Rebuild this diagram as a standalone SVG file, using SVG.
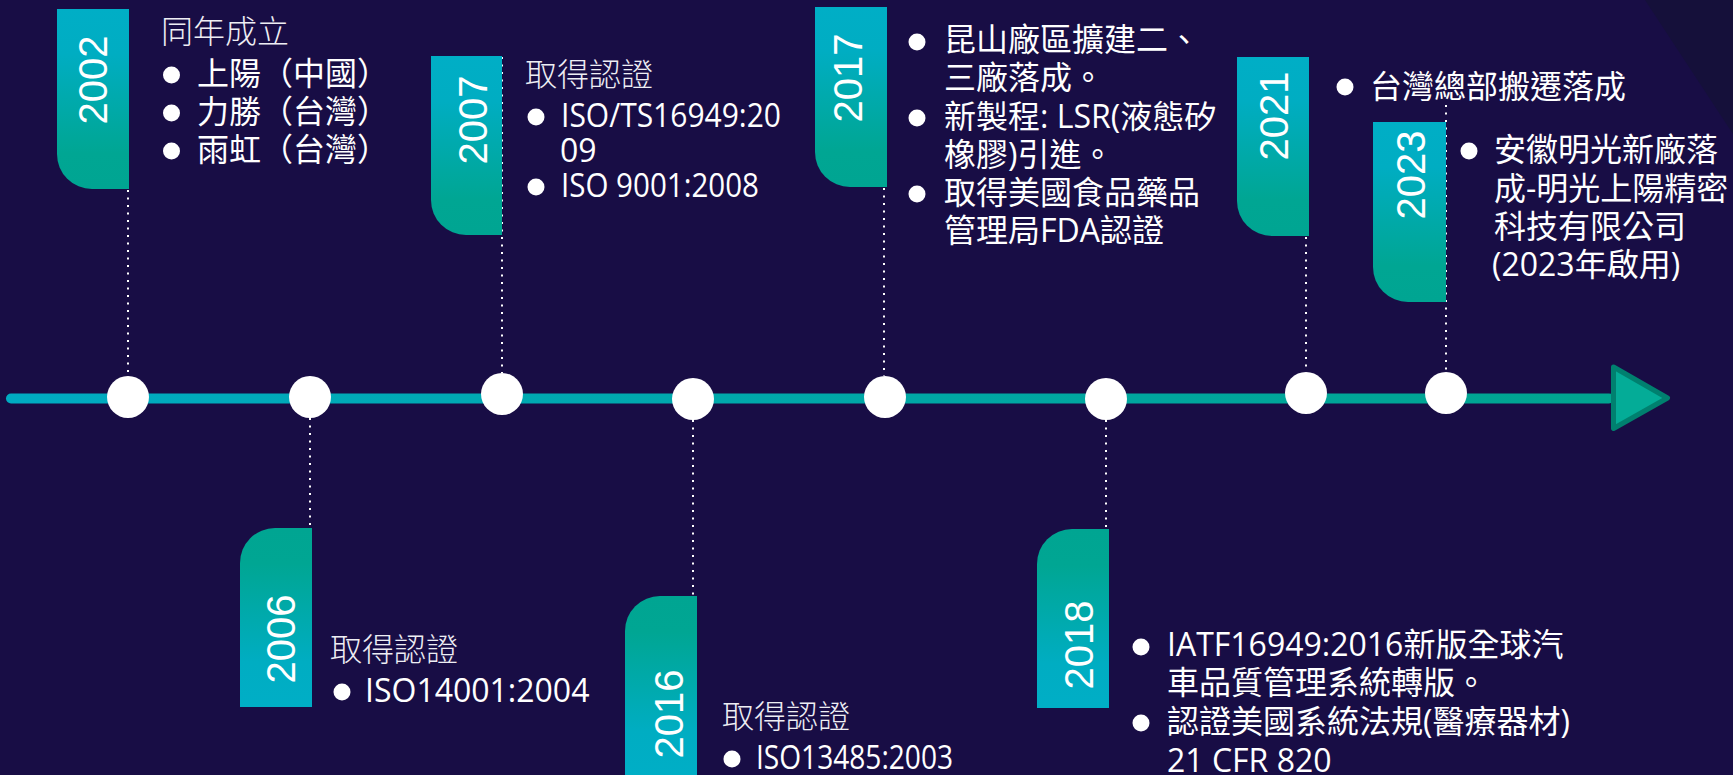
<svg xmlns="http://www.w3.org/2000/svg" width="1733" height="775" viewBox="0 0 1733 775">
<defs>
<linearGradient id="gTop" x1="0" y1="0" x2="0" y2="1">
<stop offset="0" stop-color="#00AEC6"/>
<stop offset="0.25" stop-color="#00ADC2"/>
<stop offset="0.8" stop-color="#00A693"/>
<stop offset="1" stop-color="#00A592"/>
</linearGradient>
<linearGradient id="gBot" x1="0" y1="1" x2="0" y2="0">
<stop offset="0" stop-color="#00AEC6"/>
<stop offset="0.25" stop-color="#00ADC2"/>
<stop offset="0.8" stop-color="#00A693"/>
<stop offset="1" stop-color="#00A592"/>
</linearGradient>
<linearGradient id="gAxis" x1="0" y1="0" x2="1" y2="0">
<stop offset="0" stop-color="#00ABC2"/>
<stop offset="1" stop-color="#00A48F"/>
</linearGradient>
<style>
.yr{font-family:"Liberation Sans",Arial,sans-serif;font-size:40px;fill:#FFFFFF;text-anchor:middle}
.tx{font-family:"Open Sans","Noto Sans CJK TC",sans-serif;font-size:32px;fill:#FFFFFF}
.hd{font-family:"Noto Sans CJK TC",sans-serif;font-size:32px;font-weight:300;fill:#EEEEF4}
.bul{fill:#FFFFFF}
.dot{fill:#FFFFFF}
.conn{stroke:#FFFFFF;stroke-width:2;stroke-dasharray:2 5.5;fill:none}
.tabT{fill:url(#gTop)}
.tabB{fill:url(#gBot)}
</style>
</defs>
<rect x="0" y="0" width="1733" height="775" fill="#180D45"/>
<polygon points="1645,0 1733,0 1733,134" fill="#15103A"/>

<g id="connectors">
<line class="conn" x1="128" y1="190" x2="128" y2="376"/>
<line class="conn" x1="310" y1="418" x2="310" y2="528"/>
<line class="conn" x1="502" y1="57" x2="502" y2="373"/>
<line class="conn" x1="693" y1="420" x2="693" y2="596"/>
<line class="conn" x1="884" y1="188" x2="884" y2="376"/>
<line class="conn" x1="1106" y1="420" x2="1106" y2="529"/>
<line class="conn" x1="1306" y1="237" x2="1306" y2="372"/>
<line class="conn" x1="1446" y1="105" x2="1446" y2="372"/>
</g>

<g id="axis">
<rect x="6" y="393.5" width="1608" height="10" rx="5" fill="url(#gAxis)"/>
<polygon points="1613.5,367 1667.5,398 1613.5,428.5" fill="#04AC97" stroke="#00806F" stroke-width="5" stroke-linejoin="round"/>
</g>

<g id="n2002">
<path class="tabT" d="M57,9 H129 V189 H92 A35 35 0 0 1 57,154 Z"/>
<text class="yr" transform="translate(107,80) rotate(-90)">2002</text>
<circle class="dot" cx="128" cy="397" r="21"/>
<text class="hd" x="161" y="43">同年成立</text>
<circle class="bul" cx="171.5" cy="75" r="8.5"/>
<text class="tx" x="197" y="85">上陽（中國）</text>
<circle class="bul" cx="171.5" cy="113" r="8.5"/>
<text class="tx" x="197" y="123">力勝（台灣）</text>
<circle class="bul" cx="171.5" cy="151" r="8.5"/>
<text class="tx" x="197" y="161">雨虹（台灣）</text>
</g>

<g id="n2006">
<path class="tabB" d="M275,528 H312 V707 H240 V563 A35 35 0 0 1 275,528 Z"/>
<text class="yr" transform="translate(295,639) rotate(-90)">2006</text>
<circle class="dot" cx="310" cy="397" r="21"/>
<text class="hd" x="330" y="661">取得認證</text>
<circle class="bul" cx="342" cy="692" r="8.5"/>
<text class="tx" x="365" y="702">ISO14001:2004</text>
</g>

<g id="n2007">
<path class="tabT" d="M431,56 H502 V235 H466 A35 35 0 0 1 431,200 Z"/>
<text class="yr" transform="translate(487,120) rotate(-90)">2007</text>
<circle class="dot" cx="502" cy="394" r="21"/>
<text class="hd" x="525" y="86">取得認證</text>
<circle class="bul" cx="536" cy="117" r="8.5"/>
<text class="tx" x="561" y="127" textLength="220" lengthAdjust="spacingAndGlyphs">ISO/TS16949:20</text>
<text class="tx" x="560" y="162">09</text>
<circle class="bul" cx="536" cy="187" r="8.5"/>
<text class="tx" x="561" y="197" textLength="198" lengthAdjust="spacingAndGlyphs">ISO 9001:2008</text>
</g>

<g id="n2016">
<path class="tabB" d="M660,596 H697 V776 H625 V631 A35 35 0 0 1 660,596 Z"/>
<text class="yr" transform="translate(683,714) rotate(-90)">2016</text>
<circle class="dot" cx="693" cy="399" r="21"/>
<text class="hd" x="722" y="728">取得認證</text>
<circle class="bul" cx="732" cy="759" r="8.5"/>
<text class="tx" x="756" y="769" textLength="197" lengthAdjust="spacingAndGlyphs">ISO13485:2003</text>
</g>

<g id="n2017">
<path class="tabT" d="M815,7 H887 V187 H850 A35 35 0 0 1 815,152 Z"/>
<text class="yr" transform="translate(862,78) rotate(-90)">2017</text>
<circle class="dot" cx="885" cy="397" r="21"/>
<circle class="bul" cx="917" cy="42" r="8.5"/>
<text class="tx" x="944" y="51">昆山廠區擴建二、</text>
<text class="tx" x="944" y="89">三廠落成。</text>
<circle class="bul" cx="917" cy="118" r="8.5"/>
<text class="tx" x="944" y="128">新製程: LSR(液態矽</text>
<text class="tx" x="944" y="166">橡膠)引進。</text>
<circle class="bul" cx="917" cy="194" r="8.5"/>
<text class="tx" x="944" y="204">取得美國食品藥品</text>
<text class="tx" x="944" y="242">管理局FDA認證</text>
</g>

<g id="n2018">
<path class="tabB" d="M1072,529 H1109 V708 H1037 V564 A35 35 0 0 1 1072,529 Z"/>
<text class="yr" transform="translate(1093,645) rotate(-90)">2018</text>
<circle class="dot" cx="1106" cy="399" r="21"/>
<circle class="bul" cx="1141" cy="647" r="8.5"/>
<text class="tx" x="1167" y="656">IATF16949:2016新版全球汽</text>
<text class="tx" x="1167" y="694">車品質管理系統轉版。</text>
<circle class="bul" cx="1141" cy="723" r="8.5"/>
<text class="tx" x="1167" y="733">認證美國系統法規(醫療器材)</text>
<text class="tx" x="1167" y="772">21 CFR 820</text>
</g>

<g id="n2021">
<path class="tabT" d="M1237,57 H1309 V236 H1272 A35 35 0 0 1 1237,201 Z"/>
<text class="yr" transform="translate(1288,116) rotate(-90)">2021</text>
<circle class="dot" cx="1306" cy="393" r="21"/>
<circle class="bul" cx="1345" cy="87" r="8.5"/>
<text class="tx" x="1370" y="98">台灣總部搬遷落成</text>
</g>

<g id="n2023">
<path class="tabT" d="M1373,122 H1446 V302 H1408 A35 35 0 0 1 1373,267 Z"/>
<text class="yr" transform="translate(1425,175) rotate(-90)">2023</text>
<circle class="dot" cx="1446" cy="393" r="21"/>
<circle class="bul" cx="1469" cy="151" r="8.5"/>
<text class="tx" x="1494" y="161">安徽明光新廠落</text>
<text class="tx" x="1494" y="200">成-明光上陽精密</text>
<text class="tx" x="1494" y="238">科技有限公司</text>
<text class="tx" x="1492" y="276">(2023年啟用)</text>
</g>
</svg>
